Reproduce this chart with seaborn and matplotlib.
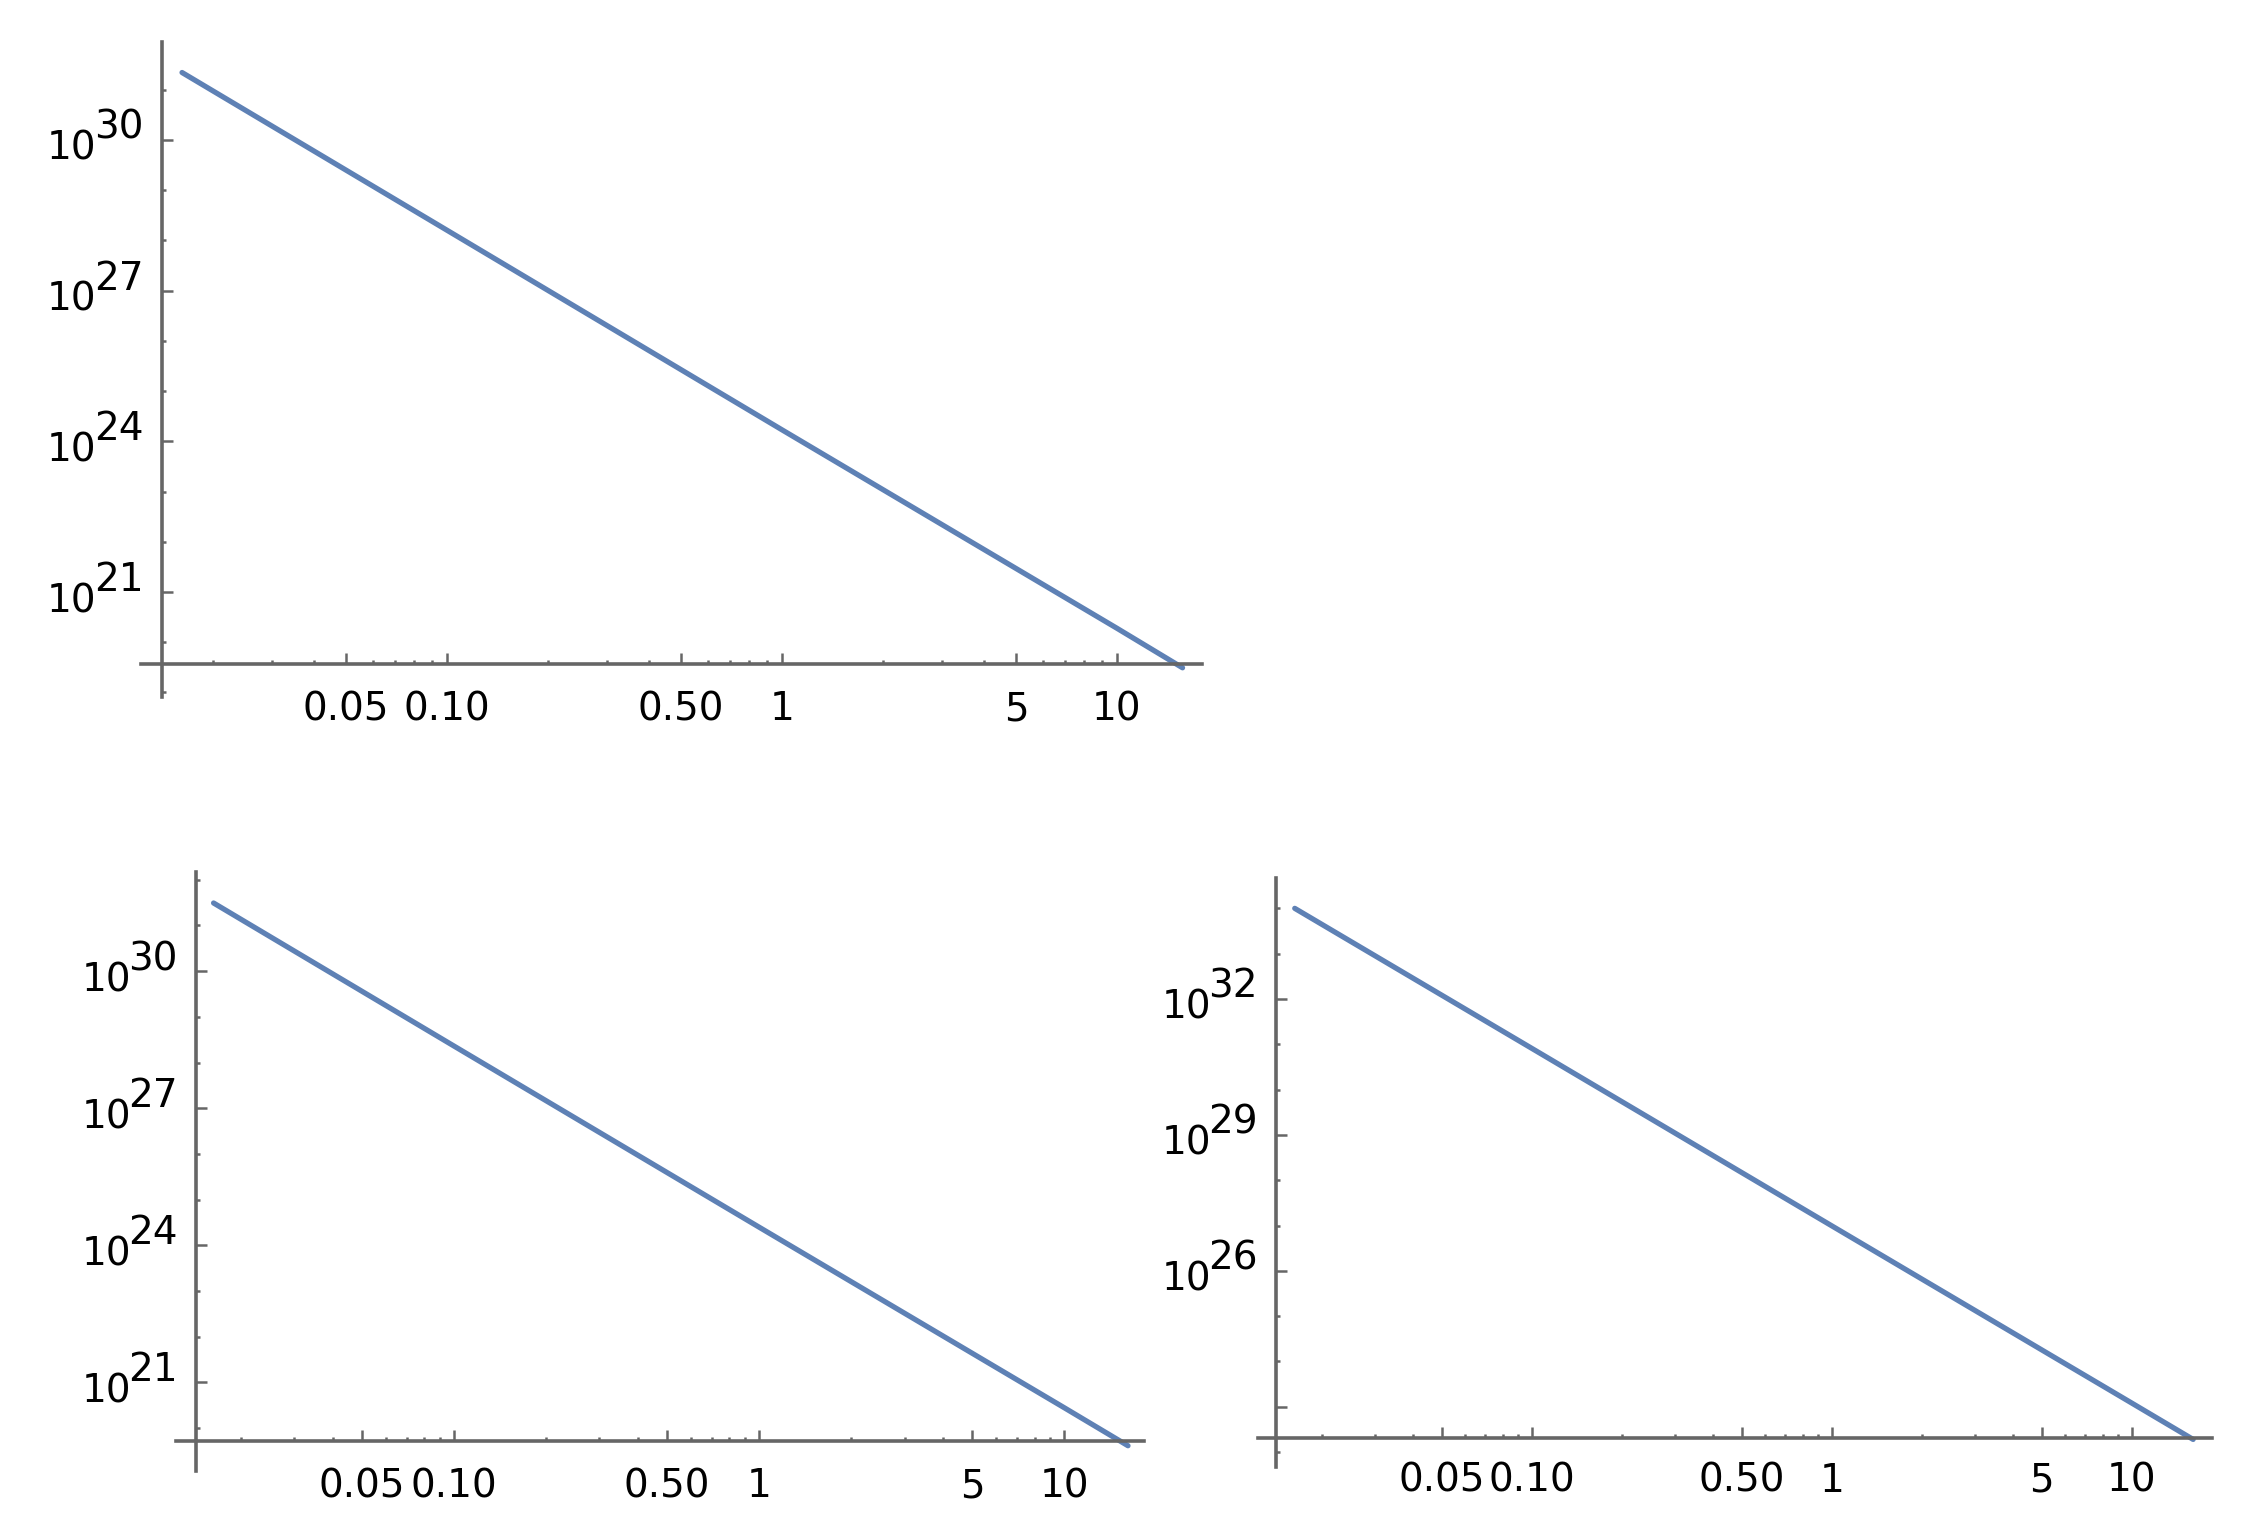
import numpy as np
import matplotlib
matplotlib.use('Agg')
import matplotlib.pyplot as plt
from matplotlib.ticker import LogLocator, NullFormatter
import seaborn as sns

# curve readings (x, y) off the three log-log panels
x_top = [0.0162, 0.1, 1, 10, 15.7]
y_top = [2.2e31, 1.6e28, 1.7e24, 1.9e20, 3.1e19]

x_left = [0.0163, 0.1, 1, 10, 16.2]
y_left = [3.1e31, 2.3e28, 2.5e24, 2.8e20, 4.1e19]

x_right = [0.0162, 0.1, 1, 10, 16.0]
y_right = [1.0e34, 8.1e30, 9.8e26, 1.2e23, 1.9e22]

# tick values / labels
x_ticks = [0.05, 0.1, 0.5, 1, 5, 10]
x_tick_labels = ['0.05', '0.10', '0.50', '1', '5', '10']

y_ticks_top = [1e21, 1e24, 1e27, 1e30]
y_exp_top = ['21', '24', '27', '30']
y_ticks_left = [1e21, 1e24, 1e27, 1e30]
y_exp_left = ['21', '24', '27', '30']
y_ticks_right = [1e23, 1e26, 1e29, 1e32]
y_exp_right = ['', '26', '29', '32']

sns.set_style('white')
plt.rcParams['font.family'] = ['DejaVu Sans']
plt.rcParams['text.color'] = 'black'

W, H = 2257, 1539
LINE = '#5E81B5'
AXC = '#666666'
FS = 28

fig = plt.figure(figsize=(W / 100, H / 100), dpi=100)


def panel(box, xlog, ylog, origin, xs, ys, yt, ye, xpad):
    l, t, r, b = box
    ax = fig.add_axes([l / W, 1 - b / H, (r - l) / W, (b - t) / H])
    sns.lineplot(x=xs, y=ys, ax=ax, color=LINE, linewidth=3.8)
    ax.set_xscale('log')
    ax.set_yscale('log')
    ax.set_xlim(10 ** xlog[0], 10 ** xlog[1])
    ax.set_ylim(10 ** ylog[0], 10 ** ylog[1])

    ox, oy = 10 ** origin[0], 10 ** origin[1]
    ax.spines['top'].set_visible(False)
    ax.spines['right'].set_visible(False)
    ax.spines['left'].set_position(('data', ox))
    ax.spines['bottom'].set_position(('data', oy))
    for s in ['left', 'bottom']:
        ax.spines[s].set_color(AXC)
        ax.spines[s].set_linewidth(2.6)

    ax.set_xticks(x_ticks, labels=x_tick_labels)
    ax.xaxis.set_minor_locator(LogLocator(base=10, subs=np.arange(2, 10), numticks=100))
    ax.xaxis.set_minor_formatter(NullFormatter())
    ax.set_yticks(yt, labels=[''] * len(yt))
    ax.yaxis.set_minor_locator(LogLocator(base=10, subs=(1.0,), numticks=100))
    ax.yaxis.set_minor_formatter(NullFormatter())

    ax.tick_params(which='both', bottom=True, left=True, top=False, right=False)
    ax.tick_params(which='major', direction='in', length=8, width=1.8, color=AXC,
                   labelsize=FS, labelcolor='black')
    ax.tick_params(axis='x', which='major', pad=xpad)
    ax.tick_params(which='minor', direction='in', length=3.2, width=1.8, color=AXC)

    # y labels as 10 with a full-size raised exponent
    for v, e in zip(yt, ye):
        if not e:
            continue
        ax.annotate('10', xy=(ox, v), xycoords='data', xytext=(-65, -20),
                    textcoords='offset pixels', ha='right', va='baseline',
                    fontsize=FS, color='black')
        ax.annotate(e, xy=(ox, v), xycoords='data', xytext=(-18, 1),
                    textcoords='offset pixels', ha='right', va='baseline',
                    fontsize=FS, color='black')
    ax.set_xlabel('')
    ax.set_ylabel('')
    return ax


panel((141, 42, 1202, 697), (-1.913, 1.254), (18.91, 31.95), (-1.851, 19.566),
      x_top, y_top, y_ticks_top, y_exp_top, 19)
panel((176, 872, 1144, 1471), (-1.911, 1.262), (19.06, 32.17), (-1.846, 19.72),
      x_left, y_left, y_ticks_left, y_exp_left, 19)
panel((1258, 878, 2212, 1467), (-1.913, 1.267), (21.67, 34.67), (-1.853, 22.31),
      x_right, y_right, y_ticks_right, y_exp_right, 17)

fig.savefig('out.png', dpi=100, facecolor='white')
